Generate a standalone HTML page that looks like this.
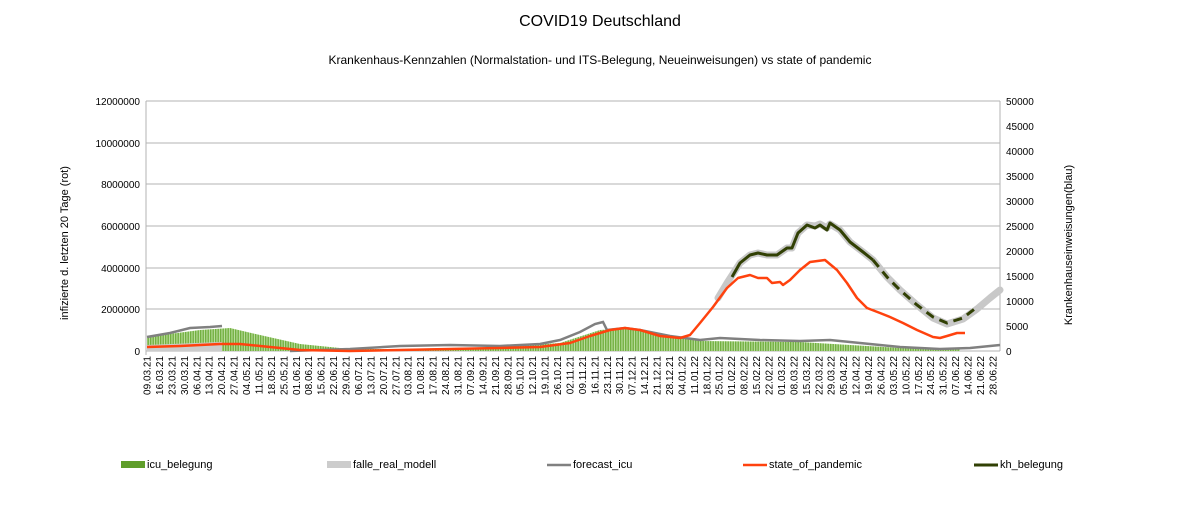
<!DOCTYPE html>
<html><head><meta charset="utf-8"><style>
body{margin:0;background:#fff;}
svg text{font-family:"Liberation Sans",sans-serif;fill:#000;}
</style></head><body>
<svg width="1200" height="501" viewBox="0 0 1200 501" xmlns="http://www.w3.org/2000/svg">
<defs>
<pattern id="st" width="2.5" height="10" patternUnits="userSpaceOnUse">
<rect width="2.5" height="10" fill="#b9dc9c"/><rect width="1.4" height="10" fill="#72b040"/>
</pattern>
</defs>
<text x="600" y="26" font-size="16" text-anchor="middle">COVID19 Deutschland</text>
<text x="600" y="64" font-size="12" text-anchor="middle">Krankenhaus-Kennzahlen (Normalstation- und ITS-Belegung, Neueinweisungen) vs state of pandemic</text>
<g stroke="#b3b3b3" stroke-width="1">
<line x1="146" y1="101" x2="1000" y2="101"/><line x1="146" y1="143" x2="1000" y2="143"/>
<line x1="146" y1="184" x2="1000" y2="184"/><line x1="146" y1="226" x2="1000" y2="226"/>
<line x1="146" y1="268" x2="1000" y2="268"/><line x1="146" y1="309" x2="1000" y2="309"/>
<line x1="146" y1="351" x2="1000" y2="351"/>
<line x1="146" y1="101" x2="146" y2="355"/><line x1="1000" y1="101" x2="1000" y2="351"/>
</g>
<g font-size="10" text-anchor="end">
<text x="140" y="105">12000000</text><text x="140" y="147">10000000</text><text x="140" y="188">8000000</text>
<text x="140" y="230">6000000</text><text x="140" y="272">4000000</text><text x="140" y="313">2000000</text><text x="140" y="355">0</text>
</g>
<g font-size="10">
<text x="1006" y="105">50000</text><text x="1006" y="130">45000</text><text x="1006" y="155">40000</text><text x="1006" y="180">35000</text>
<text x="1006" y="205">30000</text><text x="1006" y="230">25000</text><text x="1006" y="255">20000</text><text x="1006" y="280">15000</text>
<text x="1006" y="305">10000</text><text x="1006" y="330">5000</text><text x="1006" y="355">0</text>
</g>
<text transform="translate(68,243) rotate(-90)" font-size="11" text-anchor="middle">infizierte d. letzten 20 Tage (rot)</text>
<text transform="translate(1072,245) rotate(-90)" font-size="11" text-anchor="middle">Krankenhauseinweisungen(blau)</text>
<polygon fill="url(#st)" points="147,351 147,337 200,330 230,328 260,335 300,344 350,349 400,349 450,348 500,347 560,343 600,330 630,328 660,333 700,341 800,342 900,348 960,349 960,351"/>
<polygon fill="#cccccc" points="147,351 147,345 222,342 222,351"/>
<polyline fill="none" stroke="#c8c8c8" stroke-width="7" stroke-linejoin="round" stroke-linecap="round" points="718,298 727,283 740,263 750,255 758,253 767,255 777,255 787,248 792,248 798,233 807,225 815,226 820,224 827,228 830,224 840,230 850,242 863,252 873,260 887,277 900,290 917,305 933,318 947,324 963,319 977,309 990,298 1000,290"/>
<polyline fill="none" stroke="#808080" stroke-width="2.5" points="147,337 170,333 190,328 210,327 222,326"/>
<polyline fill="none" stroke="#808080" stroke-width="2.5" points="290,351 350,349 400,346 450,345 500,346 540,344 560,340 580,332 595,324 603,322 607,330 625,328 640,330 670,336 700,340 720,338 760,340 800,341 830,340 870,344 900,347 940,349 970,348 1000,345"/>
<polyline fill="none" stroke="#ff420e" stroke-width="2.5" stroke-linejoin="round" points="147,347 180,346 220,344 240,344 270,347 300,350 350,351 400,350 450,349 500,348 540,347 570,343 590,336 610,330 625,328 640,330 660,336 680,338 690,335 700,323 713,307 727,288 738,278 750,275 758,278 767,278 772,283 780,282 783,285 790,280 800,270 810,262 825,260 837,270 847,283 857,298 867,308 880,313 890,317 903,323 917,330 933,337 940,338 947,336 957,333 965,333"/>
<polyline fill="none" stroke="#314004" stroke-width="3" stroke-linejoin="round" points="732,277 740,263 750,255 758,253 767,255 777,255 787,248 792,248 798,233 807,225 815,228 820,225 827,230 830,223 840,230 850,242 863,252 873,260"/>
<polyline fill="none" stroke="#314004" stroke-width="3" stroke-dasharray="9,6" points="873,260 887,277 900,290 917,305 933,317 947,323 963,318 977,307"/>
<g font-size="10" id="xl"></g>
<rect x="121" y="461" width="24" height="7" fill="#5f9e2a"/><text x="147" y="468" font-size="11">icu_belegung</text>
<rect x="327" y="461" width="24" height="7" fill="#cccccc"/><text x="353" y="468" font-size="11">falle_real_modell</text>
<line x1="547" y1="465" x2="571" y2="465" stroke="#808080" stroke-width="2.5"/><text x="573" y="468" font-size="11">forecast_icu</text>
<line x1="743" y1="465" x2="767" y2="465" stroke="#ff420e" stroke-width="2.5"/><text x="769" y="468" font-size="11">state_of_pandemic</text>
<line x1="974" y1="465" x2="998" y2="465" stroke="#314004" stroke-width="3"/><text x="1000" y="468" font-size="11">kh_belegung</text>
</svg>
<script>
var g=document.getElementById('xl');var d=new Date(2021,2,9);var s='';
for(var i=0;i<69;i++){var x=147+12.44*i;var dd=('0'+d.getDate()).slice(-2),mm=('0'+(d.getMonth()+1)).slice(-2),yy=(''+d.getFullYear()).slice(-2);
s+='<text transform="translate('+(x+3.5).toFixed(1)+',356) rotate(-90)" text-anchor="end">'+dd+'.'+mm+'.'+yy+'</text>';d.setDate(d.getDate()+7);}
g.innerHTML=s;
</script>
</body></html>
